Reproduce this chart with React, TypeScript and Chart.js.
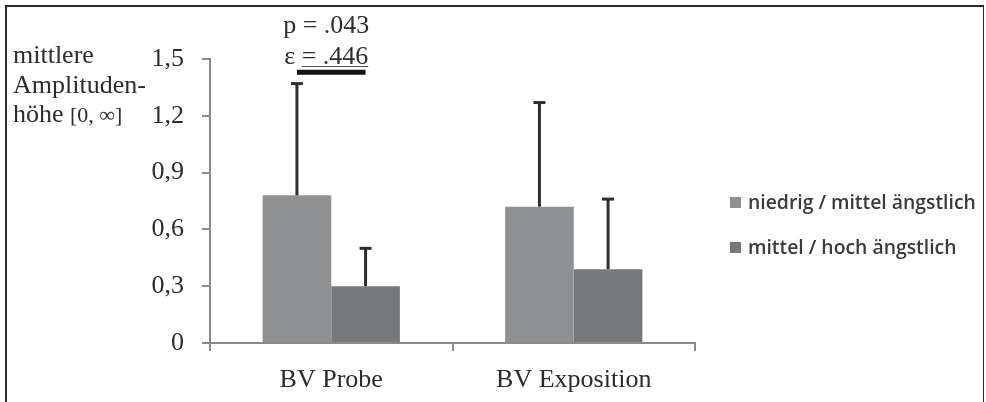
import React, { useEffect, useRef } from 'react';
import { Chart, registerables } from 'chart.js';

Chart.register(...registerables);

const categories = ['BV Probe', 'BV Exposition'];
const seriesLabels = ['niedrig / mittel ängstlich', 'mittel / hoch ängstlich'];
const niedrigMittel = [0.78, 0.72];
const mittelHoch = [0.3, 0.39];
const niedrigMittelSD = [0.59, 0.55];
const mittelHochSD = [0.2, 0.37];
const yTickLabels = ['0', '0,3', '0,6', '0,9', '1,2', '1,5'];
const yTitleLines = ['mittlere', 'Amplituden-', 'höhe'];
const yTitleRange = '[0, ∞]';
const sigP = 'p = .043';
const sigEps = 'ε = .446';
const sigLevel = 1.43;
const seriesColors = ['#8f9092', '#77787a'];

const SERIF = '"Liberation Serif", "Times New Roman", serif';
const TEXT = '#2c2c2c';
const AXIS = '#8a8a8a';

const overlay = {
  id: 'overlay',
  afterDatasetsDraw(chart: any) {
    const ctx = chart.ctx as CanvasRenderingContext2D;
    const y = chart.scales.y;
    const errs = [niedrigMittelSD, mittelHochSD];
    ctx.save();
    // error bars
    chart.data.datasets.forEach((ds: any, di: number) => {
      const meta = chart.getDatasetMeta(di);
      meta.data.forEach((bar: any, i: number) => {
        const top = y.getPixelForValue(ds.data[i] + errs[di][i]);
        ctx.strokeStyle = '#2e2e2e';
        ctx.lineWidth = 3;
        ctx.beginPath();
        ctx.moveTo(bar.x, bar.y);
        ctx.lineTo(bar.x, top);
        ctx.stroke();
        ctx.beginPath();
        ctx.moveTo(bar.x - 6, top);
        ctx.lineTo(bar.x + 6, top);
        ctx.stroke();
      });
    });
    // significance bar
    const x0 = chart.getDatasetMeta(0).data[0].x;
    const x1 = chart.getDatasetMeta(1).data[0].x;
    const sy = y.getPixelForValue(sigLevel);
    ctx.strokeStyle = '#111111';
    ctx.lineWidth = 5;
    ctx.beginPath();
    ctx.moveTo(x0, sy);
    ctx.lineTo(x1, sy);
    ctx.stroke();
    const cx = (x0 + x1) / 2 - 5;
    ctx.fillStyle = TEXT;
    ctx.font = `26px ${SERIF}`;
    ctx.textAlign = 'center';
    ctx.textBaseline = 'alphabetic';
    ctx.fillText(sigP, cx, 33);
    ctx.fillText(sigEps, cx, 64);
    const w = ctx.measureText(sigEps).width;
    const wEps = ctx.measureText('ε ').width;
    ctx.fillStyle = '#555555';
    ctx.fillRect(cx - w / 2 + wEps, 66, w - wEps, 1);
    ctx.fillStyle = TEXT;

    // y title
    ctx.textAlign = 'left';
    ctx.font = `26px ${SERIF}`;
    const bases = [63, 93, 122];
    yTitleLines.forEach((t, i) => ctx.fillText(t, 13, bases[i]));
    const hw = ctx.measureText(yTitleLines[2] + ' ').width;
    ctx.font = `22px ${SERIF}`;
    ctx.fillText(yTitleRange, 13 + hw, 122);

    // legend
    const fam = '"Open Sans", Lato, sans-serif';
    ctx.font = `600 17px ${fam}`;
    const mw = ctx.measureText(seriesLabels[0]).width;
    const fs = Math.min(20, (17 * 228) / mw);
    ctx.font = `600 ${fs}px ${fam}`;
    ctx.textBaseline = 'middle';
    const ly = [203, 248];
    seriesLabels.forEach((lab, i) => {
      ctx.fillStyle = seriesColors[i];
      ctx.fillRect(730, ly[i] - 6, 11, 11);
      ctx.fillStyle = '#3a3a3a';
      ctx.fillText(lab, 748, ly[i]);
    });

    // frame
    ctx.fillStyle = '#2a2a2a';
    ctx.fillRect(5, 5, 2, 397);
    ctx.fillRect(5, 5, 979, 2);
    ctx.fillRect(983, 5, 1, 397);
    ctx.restore();
  },
};

export default function App() {
  const ref = useRef<HTMLCanvasElement>(null);
  useEffect(() => {
    document.body.style.margin = '0';
    const chart = new Chart(ref.current as HTMLCanvasElement, {
      type: 'bar',
      data: {
        labels: categories,
        datasets: [
          { label: seriesLabels[0], data: niedrigMittel, backgroundColor: seriesColors[0], borderWidth: 0 },
          { label: seriesLabels[1], data: mittelHoch, backgroundColor: seriesColors[1], borderWidth: 0 },
        ],
      },
      options: {
        responsive: false,
        animation: false,
        devicePixelRatio: 1,
        layout: { padding: { left: 0, top: 59, right: 291, bottom: 0 } },
        plugins: { legend: { display: false }, tooltip: { enabled: false } },
        datasets: { bar: { categoryPercentage: 0.566, barPercentage: 1 } },
        scales: {
          x: {
            grid: { display: true, drawOnChartArea: false, drawTicks: true, tickLength: 8, color: AXIS, lineWidth: 2 },
            border: { display: true, color: AXIS, width: 2 },
            ticks: { font: { family: SERIF, size: 26 }, color: TEXT, padding: 14 },
            afterFit: (s: any) => {
              s.height = 59;
              s.paddingLeft = 0;
              s.paddingRight = 0;
            },
          },
          y: {
            min: 0,
            max: 1.5,
            grid: { display: true, drawOnChartArea: false, drawTicks: true, tickLength: 8, color: AXIS, lineWidth: 2 },
            border: { display: true, color: AXIS, width: 2 },
            ticks: {
              stepSize: 0.3,
              padding: 18,
              font: { family: SERIF, size: 26 },
              color: TEXT,
              callback: (_v: any, i: number) => yTickLabels[i],
            },
            afterFit: (s: any) => {
              s.width = 210;
              s.paddingTop = 0;
              s.paddingBottom = 0;
            },
          },
        },
      } as any,
      plugins: [overlay],
    });
    return () => chart.destroy();
  }, []);
  return <canvas ref={ref} width={986} height={402} style={{ display: 'block' }} />;
}
